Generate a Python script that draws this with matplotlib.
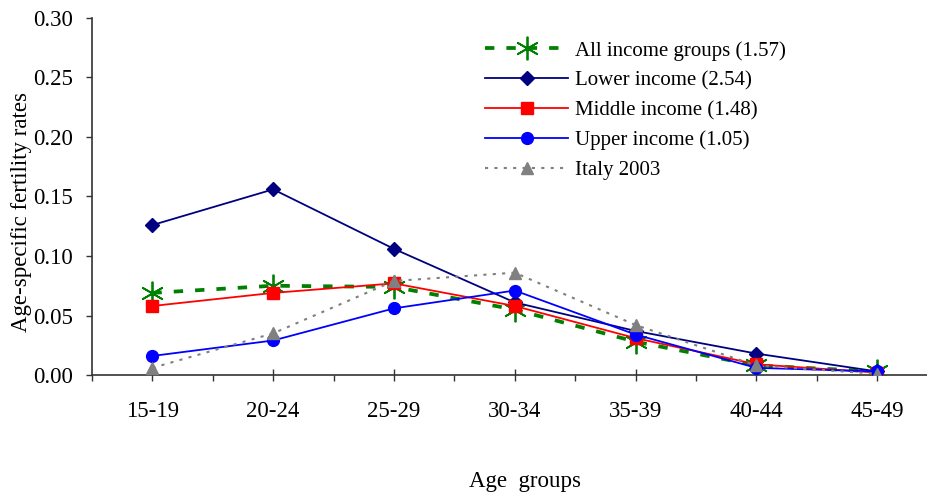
import matplotlib
matplotlib.use("Agg")
import matplotlib.pyplot as plt
from matplotlib.ticker import FixedLocator
import numpy as np

plt.rcParams['font.family'] = ['Liberation Serif', 'DejaVu Serif']

age_groups = ["15-19", "20-24", "25-29", "30-34", "35-39", "40-44", "45-49"]
all_income = [0.069, 0.075, 0.074, 0.055, 0.028, 0.008, 0.003]
lower_income = [0.126, 0.156, 0.106, 0.061, 0.037, 0.018, 0.003]
middle_income = [0.058, 0.069, 0.077, 0.058, 0.031, 0.009, 0.002]
upper_income = [0.016, 0.029, 0.056, 0.071, 0.034, 0.006, 0.003]
italy_2003 = [0.006, 0.035, 0.079, 0.086, 0.042, 0.008, 0.001]

labels = ["All income groups (1.57)", "Lower income (2.54)",
          "Middle income (1.48)", "Upper income (1.05)", "Italy 2003"]
y_ticks = [0.00, 0.05, 0.10, 0.15, 0.20, 0.25, 0.30]

W, H = 928, 499
fig = plt.figure(figsize=(W / 100, H / 100), dpi=100)
left, right, top, bottom = 92, 937.5, 18, 375
ax = fig.add_axes([left / W, 1 - bottom / H, (right - left) / W, (bottom - top) / H])

x = np.arange(len(age_groups))

h_all, = ax.plot(x, all_income, color='#008000', lw=2.7, dashes=(2.5, 3.2),
                 marker=(6, 2, 0), ms=17, mew=1.3, mec='#008000', zorder=3)
h_low, = ax.plot(x, lower_income, color='#000080', lw=1.3,
                 marker='D', ms=7.5, mfc='#000080', mec='#000080', zorder=4)
h_mid, = ax.plot(x, middle_income, color='#FF0000', lw=1.3,
                 marker='s', ms=8, mfc='#FF0000', mec='#FF0000', zorder=5)
h_up, = ax.plot(x, upper_income, color='#0000FF', lw=1.3,
                marker='o', ms=8.5, mfc='#0000FF', mec='#0000FF', zorder=6)
h_it, = ax.plot(x, italy_2003, color='#808080', lw=1.5, dashes=(1.5, 3),
                marker='^', ms=9, mfc='#808080', mec='#808080', zorder=7)

ax.set_xlim(-0.5, len(age_groups) - 0.5)
ax.set_ylim(0, 0.30)
ax.set_yticks(y_ticks)
ax.set_yticklabels([f"{v:.2f}" for v in y_ticks])
ax.set_xticks(x)
ax.set_xticklabels(age_groups)
ax.xaxis.set_minor_locator(FixedLocator(np.arange(-0.5, len(age_groups), 1.0)))

for s in ['top', 'right']:
    ax.spines[s].set_visible(False)
for s in ['left', 'bottom']:
    ax.spines[s].set_color('#333333')
    ax.spines[s].set_linewidth(1.2)

ax.tick_params(axis='y', direction='out', length=4, width=1, color='#333333',
               labelsize=16.5, pad=10)
ax.tick_params(axis='x', which='major', direction='inout', length=9, width=1,
               color='#333333', labelsize=16.5, pad=14)
ax.tick_params(axis='x', which='minor', direction='out', length=4, width=1,
               color='#333333')

fig.text(22 / W, 1 - 212 / H, "Age-specific fertility rates", rotation=90,
         ha='center', va='center', fontsize=16.5)
fig.text(525 / W, 1 - 482 / H, "Age  groups", ha='center', va='center', fontsize=16.5)

leg = ax.legend([h_all, h_low, h_mid, h_up, h_it], labels,
                loc='upper left', bbox_to_anchor=(485 / W, 1 - 41 / H),
                bbox_transform=fig.transFigure, frameon=False, fontsize=15,
                handlelength=4.0, handletextpad=0.3, labelspacing=0.49,
                markerscale=1.0, borderaxespad=0, borderpad=0)

fig.savefig("out.png", dpi=100)
